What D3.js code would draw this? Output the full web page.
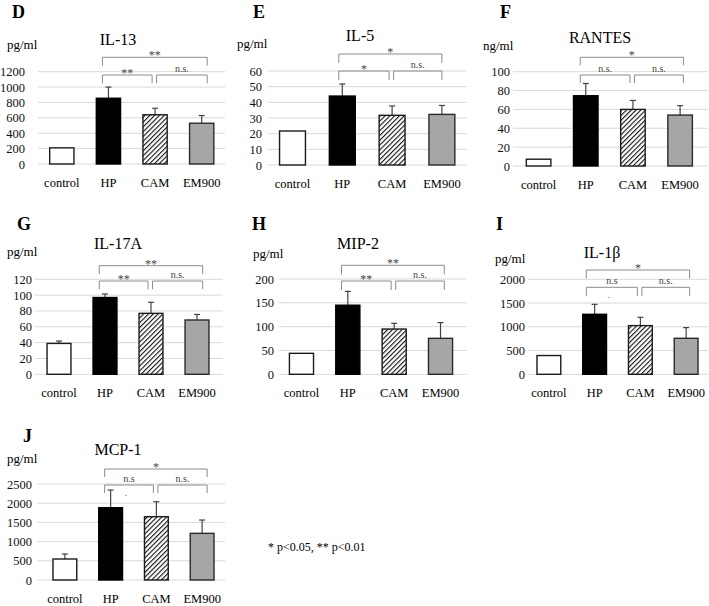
<!DOCTYPE html>
<html>
<head>
<meta charset="utf-8">
<script src="https://cdn.jsdelivr.net/npm/d3@7"></script>
<style>
  html, body { margin: 0; padding: 0; background: #fff; }
  svg { display: block; }
  svg text { font-family: "Liberation Serif", Tinos, "Times New Roman", "DejaVu Serif", serif !important; }
</style>
</head>
<body>
<svg id="chart" width="709" height="606"></svg>
<script>
// ---------- DATA ----------
const categories = ["control", "HP", "CAM", "EM900"];

const il13Mean = [210, 855, 640, 530];
const il13Err  = [0, 145, 85, 100];
const il13Ticks = [0, 200, 400, 600, 800, 1000, 1200];
const il13Sig = ["**", "**", "n.s."];

const il5Mean = [21.7, 44, 31.7, 32.3];
const il5Err  = [0, 7.7, 6, 5.7];
const il5Ticks = [0, 10, 20, 30, 40, 50, 60];
const il5Sig = ["*", "*", "n.s."];

const rantesMean = [7.2, 74.5, 60, 54];
const rantesErr  = [0, 13, 9.5, 10];
const rantesTicks = [0, 20, 40, 60, 80, 100];
const rantesSig = ["*", "n.s.", "n.s."];

const il17Mean = [39, 97, 77, 68.6];
const il17Err  = [3, 4.5, 14, 7];
const il17Ticks = [0, 20, 40, 60, 80, 100, 120];
const il17Sig = ["**", "**", "n.s."];

const mip2Mean = [44, 145, 95, 75.5];
const mip2Err  = [0, 29, 12, 33];
const mip2Ticks = [0, 50, 100, 150, 200];
const mip2Sig = ["**", "**", "n.s."];

const il1bMean = [395, 1263, 1025, 758];
const il1bErr  = [0, 210, 175, 225];
const il1bTicks = [0, 500, 1000, 1500, 2000];
const il1bSig = ["*", "n.s", "n.s."];

const mcp1Mean = [547, 1883, 1649, 1215];
const mcp1Err  = [130, 460, 390, 347];
const mcp1Ticks = [0, 500, 1000, 1500, 2000, 2500];
const mcp1Sig = ["*", "n.s", "n.s."];

const footnote = "* p<0.05, ** p<0.01";

// ---------- LAYOUT ----------
const panels = [
  {letter:"D", title:"IL-13", unit:"pg/ml", mean:il13Mean, err:il13Err, ticks:il13Ticks, sig:il13Sig,
   lx:12, ly:18, tx:118, ty:45, ux:7, uy:49, y0:164, y1:71.7, gx0:38, gx1:225, bx0:38.5, bx1:225, tr:25,
   bt:57.3, bb:75, dr:8.3, ol:-6, or:5.5, dot:false},
  {letter:"E", title:"IL-5", unit:"pg/ml", mean:il5Mean, err:il5Err, ticks:il5Ticks, sig:il5Sig,
   lx:253, ly:18, tx:360, ty:41, ux:237, uy:48, y0:165, y1:71, gx0:268, gx1:467, bx0:267.6, bx1:466.8, tr:262,
   bt:54, bb:71, dr:9, ol:-3.5, or:0, dot:false},
  {letter:"F", title:"RANTES", unit:"ng/ml", mean:rantesMean, err:rantesErr, ticks:rantesTicks, sig:rantesSig,
   lx:500, ly:18, tx:600, ty:43, ux:483, uy:50, y0:166, y1:71.7, gx0:513, gx1:708, bx0:515, bx1:703.7, tr:510,
   bt:57.3, bb:75, dr:8, ol:-5.5, or:3.3, dot:false},
  {letter:"G", title:"IL-17A", unit:"pg/ml", mean:il17Mean, err:il17Err, ticks:il17Ticks, sig:il17Sig,
   lx:17, ly:230, tx:118, ty:249, ux:7, uy:256, y0:374.3, y1:279.3, gx0:35, gx1:223, bx0:36, bx1:220, tr:32,
   bt:265.7, bb:281, dr:8.3, ol:-5.7, or:5.7, dot:false},
  {letter:"H", title:"MIP-2", unit:"pg/ml", mean:mip2Mean, err:mip2Err, ticks:mip2Ticks, sig:mip2Sig,
   lx:252, ly:230, tx:358, ty:249, ux:253, uy:258, y0:374.3, y1:279, gx0:279, gx1:467, bx0:278.3, bx1:463.7, tr:274,
   bt:265.3, bb:281, dr:9, ol:-6.3, or:3.8, dot:false},
  {letter:"I", title:"IL-1\u03B2", unit:"pg/ml", mean:il1bMean, err:il1bErr, ticks:il1bTicks, sig:il1bSig,
   lx:496, ly:230, tx:602, ty:258, ux:495, uy:263, y0:374.3, y1:279.3, gx0:528, gx1:708, bx0:526, bx1:709, tr:525,
   bt:270, bb:287.3, dr:8.5, ol:-8.3, or:3.5, dot:true},
  {letter:"J", title:"MCP-1", unit:"pg/ml", mean:mcp1Mean, err:mcp1Err, ticks:mcp1Ticks, sig:mcp1Sig,
   lx:23, ly:442, tx:118, ty:455, ux:7, uy:463, y0:580, y1:484, gx0:37, gx1:225, bx0:42, bx1:225, tr:32,
   bt:469, bb:485, dr:8, ol:-6, or:5, dot:true}
];

const barFill   = ["#ffffff", "#000000", "url(#hatch)", "#a6a6a6"];
const barStroke = ["#1a1a1a", "#000000", "#1a1a1a", "#2a2a2a"];

// ---------- DRAW ----------
const svg = d3.select("#chart");

const defs = svg.append("defs");
const pat = defs.append("pattern")
  .attr("id", "hatch")
  .attr("patternUnits", "userSpaceOnUse")
  .attr("width", 3.4).attr("height", 3.4)
  .attr("patternTransform", "rotate(45)");
pat.append("rect").attr("width", 3.4).attr("height", 3.4).attr("fill", "#fff");
pat.append("line").attr("x1", 0).attr("y1", 0).attr("x2", 0).attr("y2", 3.4)
  .attr("stroke", "#111").attr("stroke-width", 2.2);

panels.forEach(p => {
  const g = svg.append("g");
  const yMax = p.ticks[p.ticks.length - 1];
  const y = d3.scaleLinear().domain([0, yMax]).range([p.y0, p.y1]);
  const x = d3.scaleBand().domain(categories).range([p.bx0, p.bx1])
    .paddingInner(0.48).paddingOuter(0.24);
  const cx = c => x(c) + x.bandwidth() / 2;

  // letter
  g.append("text").attr("x", p.lx).attr("y", p.ly)
    .attr("font-size", 18).attr("font-weight", "bold").attr("fill", "#000").text(p.letter);
  // title
  g.append("text").attr("x", p.tx).attr("y", p.ty).attr("text-anchor", "middle")
    .attr("font-size", 16).attr("fill", "#000").text(p.title);
  // unit
  g.append("text").attr("x", p.ux).attr("y", p.uy)
    .attr("font-size", 13).attr("fill", "#000").text(p.unit);

  // gridlines
  g.selectAll(".grid").data(p.ticks).enter().append("line")
    .attr("x1", p.gx0).attr("x2", p.gx1)
    .attr("y1", d => y(d)).attr("y2", d => y(d))
    .attr("stroke", "#d9d9d9").attr("stroke-width", 1);

  // y axis labels via d3 axis
  const axis = d3.axisLeft(y).tickValues(p.ticks).tickSize(0).tickPadding(0)
    .tickFormat(d3.format("d"));
  const ag = g.append("g").attr("transform", `translate(${p.tr},0)`).call(axis);
  ag.select(".domain").remove();
  ag.attr("font-family", null).attr("font-size", null);
  ag.selectAll("text").attr("font-size", 12.5).attr("fill", "#111");

  // x labels
  g.selectAll(".xl").data(categories).enter().append("text")
    .attr("x", d => cx(d)).attr("y", p.y0 + 23).attr("text-anchor", "middle")
    .attr("font-size", 12.5).attr("fill", "#000").text(d => d);

  // error bars
  categories.forEach((c, i) => {
    if (p.err[i] > 0) {
      const top = y(p.mean[i] + p.err[i]);
      g.append("line").attr("x1", cx(c)).attr("x2", cx(c))
        .attr("y1", y(p.mean[i])).attr("y2", top)
        .attr("stroke", "#444").attr("stroke-width", 1.2);
      g.append("line").attr("x1", cx(c) - 3).attr("x2", cx(c) + 3)
        .attr("y1", top).attr("y2", top)
        .attr("stroke", "#444").attr("stroke-width", 1.2);
    }
  });

  // bars
  g.selectAll(".bar").data(categories).enter().append("rect")
    .attr("x", d => x(d)).attr("width", x.bandwidth())
    .attr("y", (d, i) => y(p.mean[i]))
    .attr("height", (d, i) => p.y0 - y(p.mean[i]))
    .attr("fill", (d, i) => barFill[i])
    .attr("stroke", (d, i) => barStroke[i]).attr("stroke-width", 1.4);

  // brackets
  const c1 = cx("HP"), c2 = cx("CAM"), c3 = cx("EM900");
  const bc = "#8c8c8c";
  const bracket = (xa, xb, yy) => {
    g.append("path")
      .attr("d", `M${xa},${yy + p.dr}V${yy}H${xb}V${yy + p.dr}`)
      .attr("fill", "none").attr("stroke", bc).attr("stroke-width", 1);
  };
  const L = c1 + p.ol, R = c3 + p.or;
  bracket(L, R, p.bt);
  bracket(L, c2 - 3, p.bb);
  bracket(c2 + 1.5, R, p.bb);

  const sigText = (s, xx, yy) => {
    const isStar = s.indexOf("*") >= 0;
    g.append("text").attr("x", xx).attr("y", isStar ? yy + 2 : yy - 3.5)
      .attr("text-anchor", "middle")
      .attr("font-size", isStar ? 12 : 10).attr("fill", "#444").text(s);
  };
  sigText(p.sig[0], (L + R) / 2, p.bt);
  sigText(p.sig[1], (L + c2 - 3) / 2, p.bb);
  sigText(p.sig[2], (c2 + 1.5 + R) / 2, p.bb);
  if (p.dot) {
    g.append("text").attr("x", (L + c2 - 3) / 2 - 3).attr("y", p.bb + 11)
      .attr("text-anchor", "middle").attr("font-size", 10).attr("fill", "#777").text(".");
  }
});

svg.append("text").attr("x", 268).attr("y", 551).attr("font-size", 12)
  .attr("fill", "#000").text(footnote);
</script>
</body>
</html>
